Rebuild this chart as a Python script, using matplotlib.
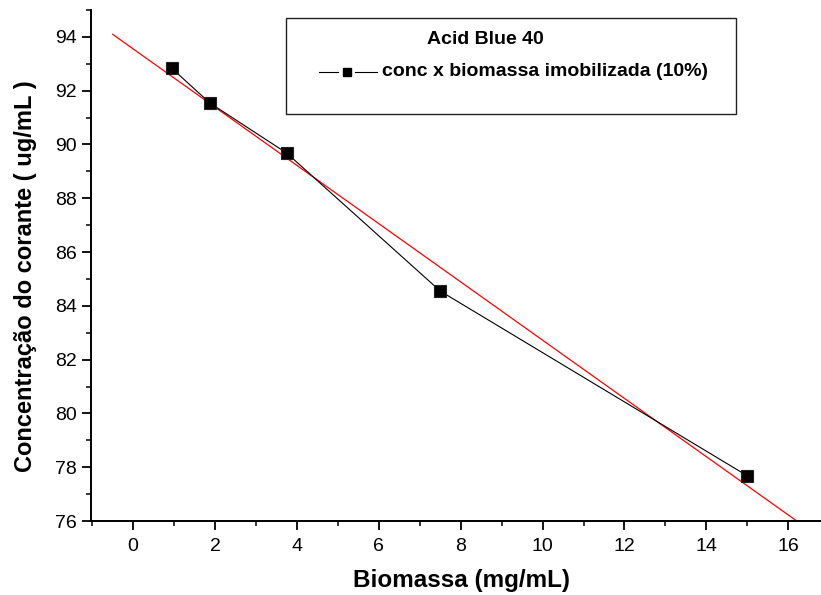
import numpy as np
import matplotlib
matplotlib.use("Agg")
import matplotlib.pyplot as plt
from matplotlib.lines import Line2D
from matplotlib.patches import Rectangle
from matplotlib.ticker import MultipleLocator

plt.rcParams['font.family'] = ['Liberation Sans', 'DejaVu Sans']

# Biomass concentration (mg/mL) and remaining dye concentration (ug/mL)
biomassa = [0.9375, 1.875, 3.75, 7.5, 15.0]
concentracao = [92.84, 91.54, 89.68, 84.55, 77.68]

x_ticks = [0, 2, 4, 6, 8, 10, 12, 14, 16]
y_ticks = [76, 78, 80, 82, 84, 86, 88, 90, 92, 94]

legend_title = "Acid Blue 40"
serie_label = "conc x biomassa imobilizada (10%)"

W, H = 821, 595
fig = plt.figure(figsize=(W / 100, H / 100), dpi=100)
ax = fig.add_axes([91 / W, 74 / H, (821 - 91) / W, (521 - 10) / H])

# data series
ax.plot(biomassa, concentracao, color='black', lw=0.8, marker='s', ms=8,
        mfc='black', mec='#222222', mew=0.8, zorder=3)

# linear regression
slope, intercept = np.polyfit(biomassa, concentracao, 1)
xf = np.array([-0.5, 17.0])
ax.plot(xf, slope * xf + intercept, color='red', lw=0.9, zorder=2)

ax.set_xlim(-1.03, 16.8)
ax.set_ylim(76, 95)
ax.set_xticks(x_ticks)
ax.set_yticks(y_ticks)
ax.xaxis.set_minor_locator(MultipleLocator(1))
ax.yaxis.set_minor_locator(MultipleLocator(1))

for s in ['top', 'right']:
    ax.spines[s].set_visible(False)
for s in ['left', 'bottom']:
    ax.spines[s].set_linewidth(1.4)

ax.tick_params(which='major', direction='out', length=6.5, width=1.3,
               labelsize=14)
ax.tick_params(axis='x', which='major', pad=6)
ax.tick_params(axis='y', which='major', pad=3.5)
ax.tick_params(which='minor', direction='out', length=3.8, width=1.1)

ax.set_xlabel("Biomassa (mg/mL)", fontsize=17.5, fontweight='bold')
ax.xaxis.set_label_coords(0.507, -0.094)
ax.set_ylabel("Concentração do corante ( ug/mL )", fontsize=17,
              fontweight='bold')
ax.yaxis.set_label_coords(-0.074, 0.4785)

# legend box
fig.patches.append(Rectangle((286 / W, 1 - 114 / H), 450 / W, 96 / H,
                             transform=fig.transFigure, fill=False,
                             edgecolor='#222222', lw=1.0))
fig.text(485 / W, 1 - 40 / H, legend_title, ha='center', va='center',
         fontsize=14, fontweight='bold')
ly = 1 - 72 / H
for x0, x1 in [(319, 338), (355, 377)]:
    fig.lines.append(Line2D([x0 / W, x1 / W], [ly, ly],
                            transform=fig.transFigure, color='black', lw=0.8))
fig.lines.append(Line2D([347 / W], [ly], transform=fig.transFigure,
                        marker='s', ms=6, color='black', lw=0))
fig.text(382 / W, ly, serie_label, ha='left', va='center',
         fontsize=14, fontweight='bold')

fig.savefig("out.png", dpi=100)
